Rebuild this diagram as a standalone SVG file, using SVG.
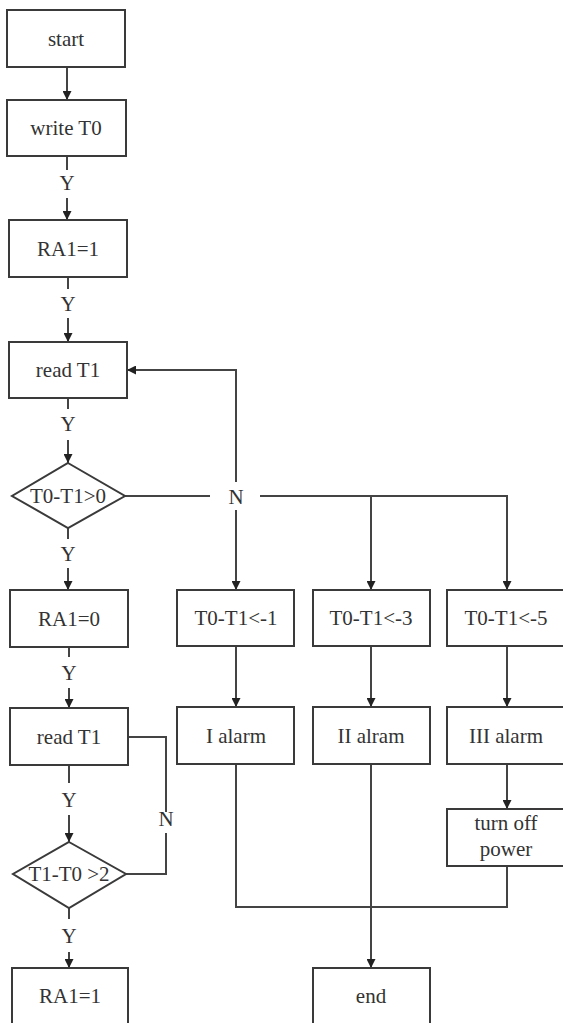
<svg xmlns="http://www.w3.org/2000/svg" width="563" height="1023" viewBox="0 0 563 1023">
<style>
.box{fill:#fff;stroke:#3a3a3a;stroke-width:2}
.ln{fill:none;stroke:#444;stroke-width:2}
.t{font-family:'Liberation Serif','DejaVu Serif',serif;font-size:21px;fill:#333;text-anchor:middle}
</style>
<defs>
<marker id="ah" viewBox="0 0 10 10" refX="10" refY="5" markerWidth="9" markerHeight="9" markerUnits="userSpaceOnUse" orient="auto">
<path d="M0,0 L10,5 L0,10 z" fill="#222"/>
</marker>
</defs>
<rect width="563" height="1023" fill="#fff"/>
<g id="connectors">
<path class="ln" d="M67,67 V100" marker-end="url(#ah)"/>
<path class="ln" d="M67,156 V170"/>
<text class="t" x="67" y="190">Y</text>
<path class="ln" d="M67,198 V220" marker-end="url(#ah)"/>
<path class="ln" d="M68,277 V289"/>
<text class="t" x="68" y="311">Y</text>
<path class="ln" d="M68,318 V342" marker-end="url(#ah)"/>
<path class="ln" d="M68,398 V409"/>
<text class="t" x="68" y="431">Y</text>
<path class="ln" d="M68,440 V463" marker-end="url(#ah)"/>
<path class="ln" d="M68,528 V539"/>
<text class="t" x="68" y="561">Y</text>
<path class="ln" d="M68,568 V590" marker-end="url(#ah)"/>
<path class="ln" d="M69,647 V657"/>
<text class="t" x="69" y="680">Y</text>
<path class="ln" d="M69,688 V708" marker-end="url(#ah)"/>
<path class="ln" d="M69,765 V783"/>
<text class="t" x="69" y="807">Y</text>
<path class="ln" d="M69,815 V842" marker-end="url(#ah)"/>
<path class="ln" d="M69,908 V919"/>
<text class="t" x="69" y="943">Y</text>
<path class="ln" d="M69,952 V968" marker-end="url(#ah)"/>
<path class="ln" d="M125,496 H210"/>
<text class="t" x="236" y="504">N</text>
<path class="ln" d="M236,482 V370 H127" marker-end="url(#ah)"/>
<path class="ln" d="M236,510 V590" marker-end="url(#ah)"/>
<path class="ln" d="M260,496 H507 V590" marker-end="url(#ah)"/>
<path class="ln" d="M371,496 V590" marker-end="url(#ah)"/>
<path class="ln" d="M236,646 V707" marker-end="url(#ah)"/>
<path class="ln" d="M371,646 V707" marker-end="url(#ah)"/>
<path class="ln" d="M507,646 V707" marker-end="url(#ah)"/>
<path class="ln" d="M507,764 V809" marker-end="url(#ah)"/>
<path class="ln" d="M236,764 V907 H507 V866"/>
<path class="ln" d="M371,764 V968" marker-end="url(#ah)"/>
<path class="ln" d="M128,737 H166 V812"/>
<text class="t" x="166" y="826">N</text>
<path class="ln" d="M166,833 V874 H126"/>
</g>
<g id="n-start"><rect class="box" x="7" y="10" width="118" height="57"/><text class="t" x="66" y="46">start</text></g>
<g id="n-writeT0"><rect class="box" x="7" y="100" width="119" height="56"/><text class="t" x="66" y="135">write T0</text></g>
<g id="n-ra1-1"><rect class="box" x="9" y="220" width="118" height="57"/><text class="t" x="68" y="256">RA1=1</text></g>
<g id="n-readT1a"><rect class="box" x="9" y="342" width="118" height="56"/><text class="t" x="68" y="377">read T1</text></g>
<g id="n-dec1"><path class="box" d="M68,463 L125,496 L68,528 L12,496 Z"/><text class="t" x="68" y="503">T0-T1&gt;0</text></g>
<g id="n-ra1-0"><rect class="box" x="10" y="590" width="118" height="57"/><text class="t" x="69" y="626">RA1=0</text></g>
<g id="n-readT1b"><rect class="box" x="10" y="708" width="118" height="57"/><text class="t" x="69" y="744">read T1</text></g>
<g id="n-dec2"><path class="box" d="M69,842 L126,874 L69,908 L13,874 Z"/><text class="t" x="69" y="881">T1-T0 &gt;2</text></g>
<g id="n-ra1-1b"><rect class="box" x="12" y="968" width="116" height="60"/><text class="t" x="70" y="1003">RA1=1</text></g>
<g id="n-th1"><rect class="box" x="177" y="590" width="117" height="56"/><text class="t" x="236" y="625">T0-T1&lt;-1</text></g>
<g id="n-th3"><rect class="box" x="313" y="590" width="117" height="56"/><text class="t" x="371" y="625">T0-T1&lt;-3</text></g>
<g id="n-th5"><rect class="box" x="447" y="590" width="118" height="56"/><text class="t" x="506" y="625">T0-T1&lt;-5</text></g>
<g id="n-alarm1"><rect class="box" x="177" y="707" width="117" height="57"/><text class="t" x="236" y="743">I alarm</text></g>
<g id="n-alarm2"><rect class="box" x="313" y="707" width="117" height="57"/><text class="t" x="371" y="743">II alram</text></g>
<g id="n-alarm3"><rect class="box" x="447" y="707" width="118" height="57"/><text class="t" x="506" y="743">III alarm</text></g>
<g id="n-power"><rect class="box" x="447" y="809" width="118" height="57"/><text class="t" x="506" y="830">turn off</text><text class="t" x="506" y="856">power</text></g>
<g id="n-end"><rect class="box" x="313" y="968" width="117" height="60"/><text class="t" x="371" y="1003">end</text></g>
</svg>
